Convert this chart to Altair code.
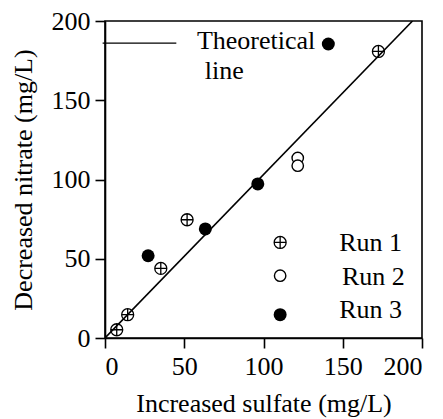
import altair as alt
import pandas as pd

# Data
run1_x = [7.4, 14.3, 35.2, 51.8, 172.5]
run1_y = [5.2, 14.7, 43.9, 74.6, 180.8]
run2_x = [121.6, 121.6]
run2_y = [113.6, 108.7]
run3_x = [27.2, 63.3, 96.4, 140.9]
run3_y = [51.9, 68.8, 97.2, 185.5]
theory_x = [0, 194]
theory_y = [0, 200]

# In-plot legend (data coordinates)
leg_labels = ["Run 1", "Run 2", "Run 3"]
leg_marker_x = [110.5, 110.5, 110.5]
leg_marker_y = [60.3, 39.3, 14.7]
leg_text_x = [147.8, 149.5, 147.8]
leg_text_y = [54.6, 33.6, 12.7]
theo_leg_line_x = [-1.5, 45]
theo_leg_line_y = [186, 186]
theo_leg_text = ["Theoretical", "line"]
theo_leg_text_x = [58, 63]
theo_leg_text_y = [182.5, 163.5]

FONT = "Liberation Serif"
FS = 26
CIRCLE_PLUS = "M -1 0 A 1 1 0 1 0 1 0 A 1 1 0 1 0 -1 0 Z M -1 0 L 1 0 M 0 -1 L 0 1"

xs = alt.Scale(domain=[0, 200], nice=False)
ys = alt.Scale(domain=[0, 200], nice=False)

xaxis = alt.Axis(values=[0, 50, 100, 150, 200], title="Increased sulfate (mg/L)",
                 grid=False, tickSize=10, labelPadding=5, titlePadding=11)
yaxis = alt.Axis(values=[0, 50, 100, 150, 200], title="Decreased nitrate (mg/L)",
                 grid=False, tickSize=10, labelPadding=5, titlePadding=15)

d1 = pd.DataFrame({"x": run1_x + leg_marker_x[:1], "y": run1_y + leg_marker_y[:1]})
d2 = pd.DataFrame({"x": run2_x + leg_marker_x[1:2], "y": run2_y + leg_marker_y[1:2]})
d3 = pd.DataFrame({"x": run3_x + leg_marker_x[2:], "y": run3_y + leg_marker_y[2:]})
dt = pd.DataFrame({"x": theory_x, "y": theory_y})
dll = pd.DataFrame({"x": theo_leg_line_x, "y": theo_leg_line_y})
dlt = pd.DataFrame({"x": leg_text_x + theo_leg_text_x,
                    "y": leg_text_y + theo_leg_text_y,
                    "t": leg_labels + theo_leg_text})

base_x = alt.X("x:Q", scale=xs, axis=xaxis)
base_y = alt.Y("y:Q", scale=ys, axis=yaxis)

theory = alt.Chart(dt).mark_line(color="black", strokeWidth=1.6, clip=True).encode(x=base_x, y=base_y)
legline = alt.Chart(dll).mark_line(color="black", strokeWidth=1.3).encode(x="x:Q", y="y:Q")
p1 = alt.Chart(d1).mark_point(shape=CIRCLE_PLUS, size=144, filled=False, color="black",
                              strokeWidth=1.3, opacity=1).encode(x="x:Q", y="y:Q")
p2 = alt.Chart(d2).mark_point(shape="circle", size=130, filled=False, color="black",
                              fill="white", fillOpacity=1, strokeWidth=1.4, opacity=1).encode(x="x:Q", y="y:Q")
p3 = alt.Chart(d3).mark_point(shape="circle", size=169, filled=True, color="black",
                              opacity=1).encode(x="x:Q", y="y:Q")
txt = alt.Chart(dlt).mark_text(font=FONT, fontSize=FS, align="left", baseline="alphabetic",
                               color="black").encode(x="x:Q", y="y:Q", text="t:N")

chart = alt.layer(theory, legline, p1, p2, p3, txt).properties(
    width=317, height=317,
    autosize=alt.AutoSizeParams(type="none"),
    padding={"left": 97, "top": 13, "right": 13, "bottom": 80},
).configure_view(stroke="black", strokeWidth=1.6).configure_axis(
    labelFont=FONT, titleFont=FONT, labelFontSize=FS, titleFontSize=FS,
    titleFontWeight="normal", labelColor="black", titleColor="black",
    domainColor="black", tickColor="black", domainWidth=1.6, tickWidth=1.6,
)

chart.save("out.html", embed_options={"renderer": "svg", "actions": False})
